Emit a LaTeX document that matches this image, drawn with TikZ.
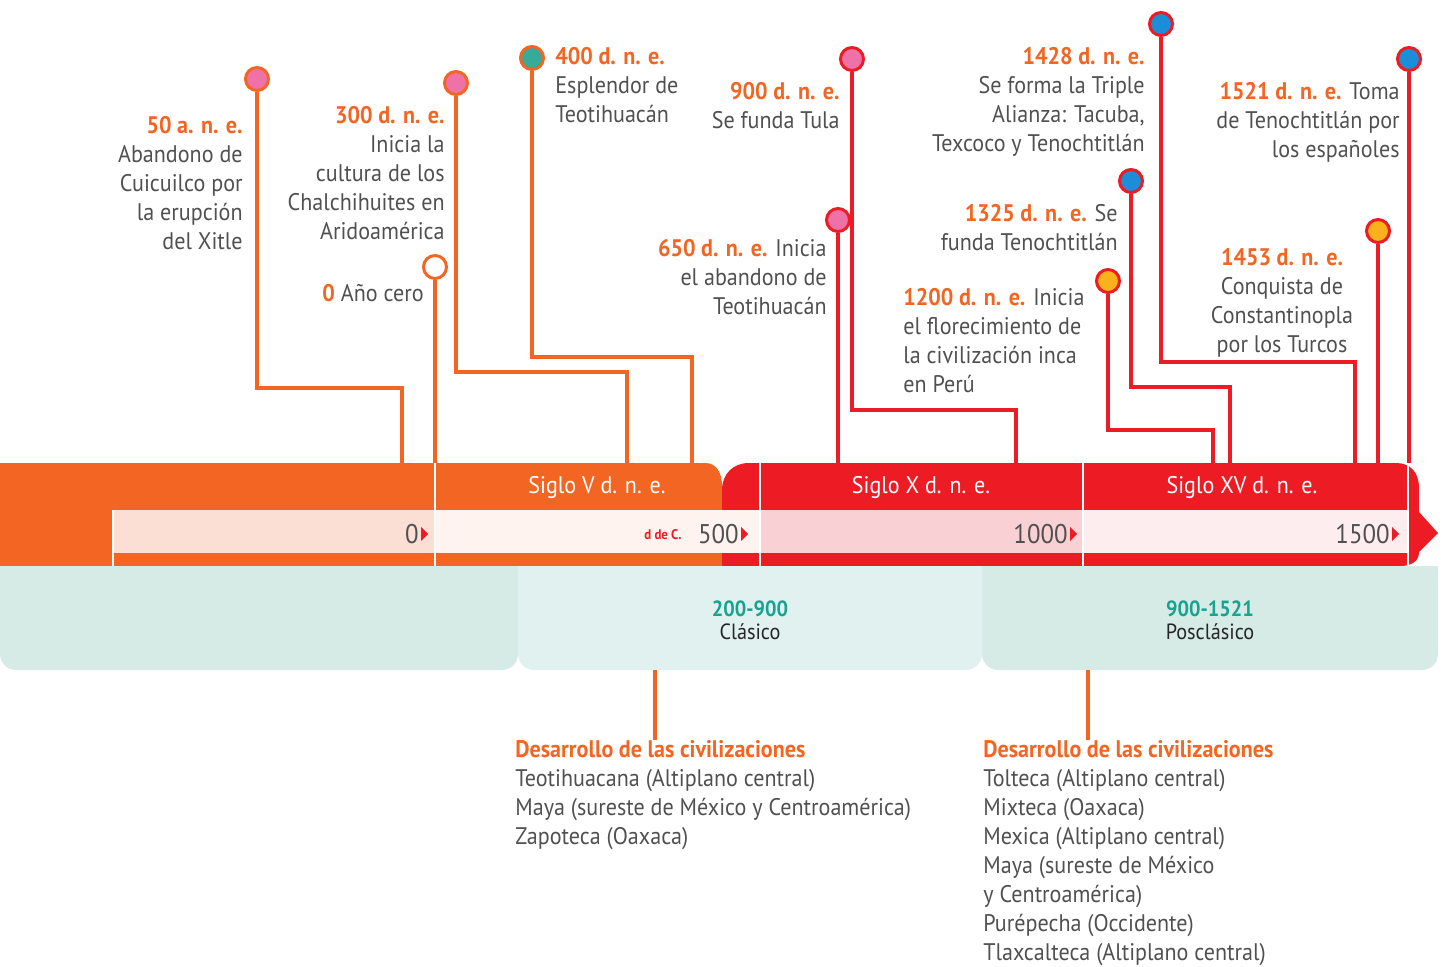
\documentclass[tikz,border=0pt]{standalone}
\usepackage{fontspec}
\setmainfont{PT Sans}[FakeStretch=0.92]
\usepackage{xcolor}
\usepackage{tikz}
\usetikzlibrary{positioning}

\definecolor{orgc}{HTML}{F26522}
\definecolor{redc}{HTML}{ED1C24}
\definecolor{txtc}{HTML}{505050}
\definecolor{pinkc}{HTML}{EE72A8}
\definecolor{tealc}{HTML}{3AAA98}
\definecolor{bluec}{HTML}{1C8ED8}
\definecolor{yelc}{HTML}{F9B21C}
\definecolor{perA}{HTML}{D6EBE5}
\definecolor{perB}{HTML}{E1F1EF}
\definecolor{perT}{HTML}{17A390}
\definecolor{stripA}{HTML}{FBDFD4}
\definecolor{stripB}{HTML}{FEF3EF}
\definecolor{stripC}{HTML}{F9D1D4}
\definecolor{stripD}{HTML}{FDEDEE}

\newcommand{\yr}[1]{{\bfseries\color{orgc}#1}}

\begin{document}
\begin{tikzpicture}[x=0.5pt,y=-0.5pt,
    evdot/.style={shape=circle, draw=#1, line width=1.5pt, minimum size=11.5pt, inner sep=0pt},
    evtext/.style={font=\fontsize{12}{14.5}\selectfont, text=txtc, inner sep=0pt},
    orline/.style={draw=orgc, line width=2pt},
    rdline/.style={draw=redc, line width=2pt},
    sep/.style={draw=white, line width=1.2pt}]
    \useasboundingbox (0,0) rectangle (1443,967);

    % band of centuries
    \fill[orgc] (0,463) -- (705,463) .. controls (716,463) and (722,472) .. (722,486) -- (722,566) -- (0,566) -- cycle;
    \fill[redc] (722,566) -- (722,490) .. controls (722,474) and (733,463) .. (749,463) -- (1396,463)
        .. controls (1410,463) and (1419,472) .. (1419,488) -- (1419,512) -- (1438,533) -- (1419,552)
        .. controls (1419,561) and (1412,566) .. (1400,566) -- cycle;
    \foreach \xa/\xb/\c in {113/435/stripA, 435/760/stripB, 760/1083/stripC, 1083/1408/stripD}
        \fill[\c] (\xa,510) rectangle (\xb,553);
    \draw[sep] (113,510) -- (113,566);
    \foreach \x in {435,760,1083,1408}
        \draw[sep] (\x,463) -- (\x,566);

    \node[text=white, font=\fontsize{12}{14}\selectfont] (s5) at (597,487) {Siglo V d. n. e.};
    \node[text=white, font=\fontsize{12}{14}\selectfont] (s10) at (921,487) {Siglo X d. n. e.};
    \node[text=white, font=\fontsize{12}{14}\selectfont] (s15) at (1242,487) {Siglo XV d. n. e.};

    \foreach \v/\x in {0/419, 500/739, 1000/1068, 1500/1390} {
        \node[anchor=east, inner sep=0pt, text=txtc, font=\fontsize{13.5}{15}\selectfont] (n\v) at (\x,534) {\v};
        \fill[redc] (n\v.east) ++(2,-7) -- ++(7,7) -- ++(-7,7) -- cycle;
    }
    \node[anchor=east, inner sep=0pt, text=redc, font=\fontsize{7}{8}\bfseries] (ddc) at (682,535) {d de C.};

    % periods
    \fill[perA, rounded corners=8pt] (0,566) rectangle (518,670);
    \fill[perA] (0,566) rectangle (518,610);
    \fill[perB, rounded corners=8pt] (518,566) rectangle (982,670);
    \fill[perB] (518,566) rectangle (982,610);
    \fill[perA, rounded corners=8pt] (982,566) rectangle (1438,670);
    \fill[perA] (982,566) rectangle (1438,610);

    \node[align=center, inner sep=0pt, font=\fontsize{11}{11.5}\selectfont] (clas) at (750,620)
        {{\bfseries\color{perT}200-900}\\\color{black!85}Clásico};
    \node[align=center, inner sep=0pt, font=\fontsize{11}{11.5}\selectfont] (posc) at (1210,620)
        {{\bfseries\color{perT}900-1521}\\\color{black!85}Posclásico};

    % events before the classic period
    \node[evdot=orgc, fill=pinkc] (e50) at (257,79) {};
    \node[evdot=orgc, fill=pinkc] (e300) at (456,83) {};
    \node[evdot=orgc, fill=white] (e0) at (435,267) {};
    \node[evdot=orgc, fill=tealc] (e400) at (532,58) {};
    \coordinate (k50) at (402,388);  \coordinate (b50) at (402,463);
    \coordinate (k300) at (627,372); \coordinate (b300) at (627,463);
    \coordinate (k400) at (692,357); \coordinate (b400) at (692,463);
    \coordinate (b0) at (435,463);
    \draw[orline] (e50) |- (k50) -- (b50);
    \draw[orline] (e300) |- (k300) -- (b300);
    \draw[orline] (e400) |- (k400) -- (b400);
    \draw[orline] (e0) -- (b0);

    \node[evtext, anchor=north east, align=right] (t50) at (243,116)
        {\yr{50 a. n. e.}\\Abandono de\\Cuicuilco por\\la erupción\\del Xitle};
    \node[evtext, anchor=north east, align=right] (t300) at (445,106)
        {\yr{300 d. n. e.}\\Inicia la\\cultura de los\\Chalchihuites en\\Aridoamérica};
    \node[evtext, anchor=north east] (t0) at (424,284) {\yr{0} Año cero};
    \node[evtext, anchor=north west, align=left] (t400) at (555,47)
        {\yr{400 d. n. e.}\\Esplendor de\\Teotihuacán};

    % events of the classic and postclassic periods
    \node[evdot=redc, fill=pinkc] (e900) at (852,59) {};
    \node[evdot=redc, fill=pinkc] (e650) at (838,220) {};
    \node[evdot=redc, fill=bluec] (e1428) at (1161,24) {};
    \node[evdot=redc, fill=bluec] (e1325) at (1131,181) {};
    \node[evdot=redc, fill=yelc] (e1200) at (1108,281) {};
    \node[evdot=redc, fill=bluec] (e1521) at (1409,59) {};
    \node[evdot=redc, fill=yelc] (e1453) at (1378,231) {};
    \coordinate (k900) at (1016,410);  \coordinate (b900) at (1016,463);
    \coordinate (b650) at (838,463);
    \coordinate (k1428) at (1355,362); \coordinate (b1428) at (1355,463);
    \coordinate (k1325) at (1230,387); \coordinate (b1325) at (1230,463);
    \coordinate (k1200) at (1213,430); \coordinate (b1200) at (1213,463);
    \coordinate (b1521) at (1409,463);
    \coordinate (b1453) at (1378,463);
    \draw[rdline] (e900) |- (k900) -- (b900);
    \draw[rdline] (e650) -- (b650);
    \draw[rdline] (e1428) |- (k1428) -- (b1428);
    \draw[rdline] (e1325) |- (k1325) -- (b1325);
    \draw[rdline] (e1200) |- (k1200) -- (b1200);
    \draw[rdline] (e1521) -- (b1521);
    \draw[rdline] (e1453) -- (b1453);

    \node[evtext, anchor=north east, align=right] (t900) at (840,82)
        {\yr{900 d. n. e.}\\Se funda Tula};
    \node[evtext, anchor=north east, align=right] (t650) at (827,239)
        {\yr{650 d. n. e.} Inicia\\el abandono de\\Teotihuacán};
    \node[evtext, anchor=north east, align=right] (t1428) at (1145,47)
        {\yr{1428 d. n. e.}\\Se forma la Triple\\Alianza: Tacuba,\\Texcoco y Tenochtitlán};
    \node[evtext, anchor=north east, align=right] (t1325) at (1118,204)
        {\yr{1325 d. n. e.} Se\\funda Tenochtitlán};
    \node[evtext, anchor=north west, align=left] (t1200) at (903,288)
        {\yr{1200 d. n. e.} Inicia\\el florecimiento de\\la civilización inca\\en Perú};
    \node[evtext, anchor=north east, align=right] (t1521) at (1400,82)
        {\yr{1521 d. n. e.} Toma\\de Tenochtitlán por\\los españoles};
    \node[evtext, anchor=north, align=center] (t1453) at (1282,248)
        {\yr{1453 d. n. e.}\\Conquista de\\Constantinopla\\por los Turcos};

    % civilizations
    \node[evtext, anchor=north west, align=left] (h1) at (515,740)
        {\yr{Desarrollo de las civilizaciones}\\Teotihuacana (Altiplano central)\\Maya (sureste de México y Centroamérica)\\Zapoteca (Oaxaca)};
    \node[evtext, anchor=north west, align=left] (h2) at (983,740)
        {\yr{Desarrollo de las civilizaciones}\\Tolteca (Altiplano central)\\Mixteca (Oaxaca)\\Mexica (Altiplano central)\\Maya (sureste de México\\y Centroamérica)\\Purépecha (Occidente)\\Tlaxcalteca (Altiplano central)};
    \coordinate (p1) at (655,670);
    \coordinate (p2) at (1088,670);
    \draw[orline] (p1) -- (p1 |- h1.north);
    \draw[orline] (p2) -- (p2 |- h2.north);
\end{tikzpicture}
\end{document}
